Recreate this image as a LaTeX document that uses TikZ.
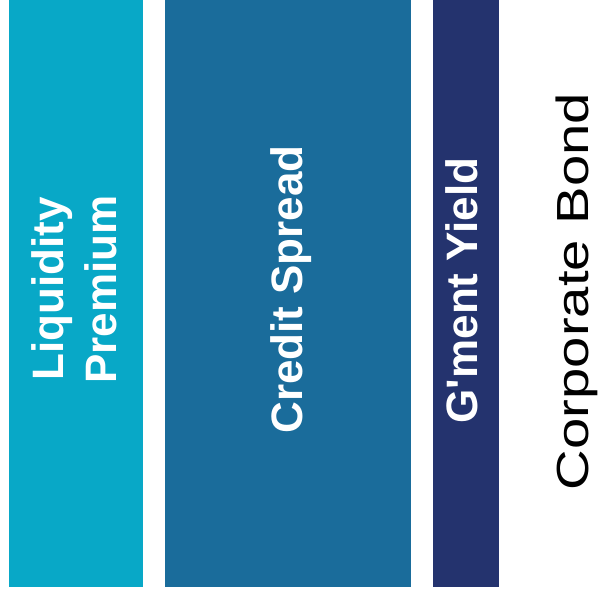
\documentclass[tikz,border=0pt]{standalone}
\usepackage{fontspec}
\setmainfont{Liberation Sans}
\definecolor{barA}{RGB}{8,168,199}
\definecolor{barB}{RGB}{26,108,155}
\definecolor{barC}{RGB}{36,51,110}
\tikzset{
  bar/.style={draw=none,inner sep=0pt,outer sep=0pt,anchor=south west},
  boldlabel/.style={text=white,inner sep=0pt,rotate=90,anchor=base,font=\bfseries\fontsize{44}{52}\selectfont},
  plainlabel/.style={text=black,inner sep=0pt,rotate=90,anchor=base,font=\fontsize{45}{52}\selectfont}
}
\begin{document}
\begin{tikzpicture}[x=1pt,y=1pt]
\useasboundingbox (0,0) rectangle (600,596);
\node[bar,fill=barA,minimum width=134pt,minimum height=587pt] (liq) at (9,9) {};
\node[bar,fill=barB,minimum width=246pt,minimum height=587pt] (cred) at (165,9) {};
\node[bar,fill=barC,minimum width=66pt,minimum height=587pt] (gov) at (433,9) {};
\node[boldlabel] (t1) at (64,307) {Liquidity};
\node[boldlabel] (t2) at (116,306.5) {Premium};
\node[boldlabel] (t3) at (302,306.5) {Credit Spread};
\node[boldlabel] (t4) at (477,305.5) {G\textquotesingle ment Yield};
\node[plainlabel] (t5) at (588,304.5) {\scalebox{1.25}[1]{Corporate Bond}};
\end{tikzpicture}
\end{document}
